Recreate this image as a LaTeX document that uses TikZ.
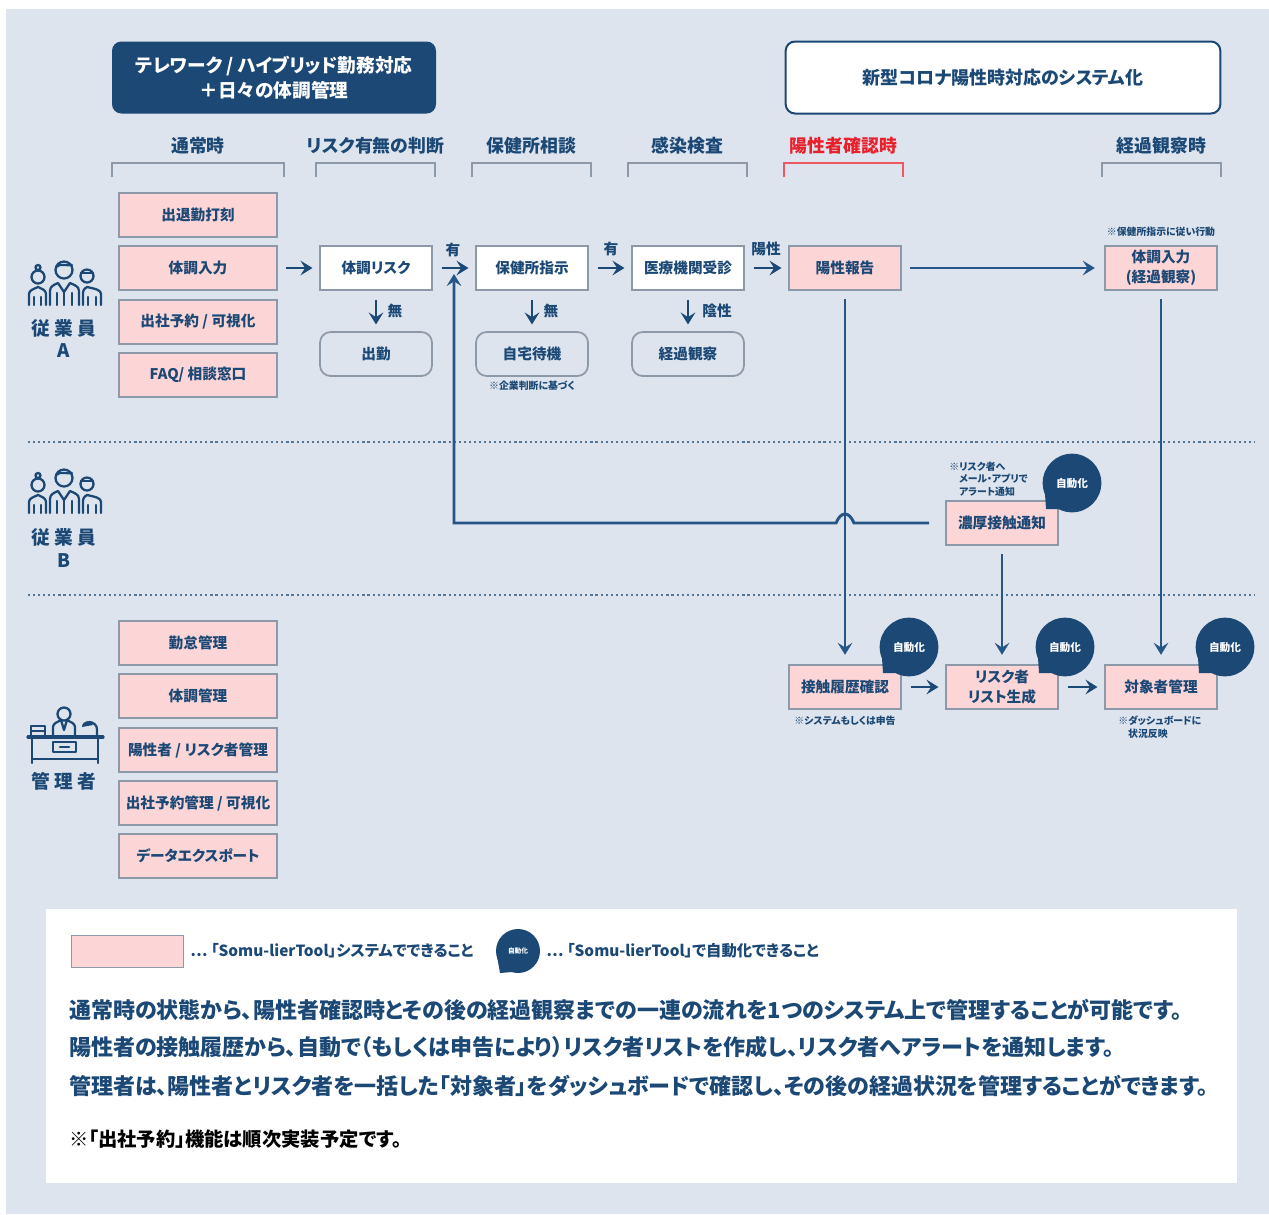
\documentclass[tikz,border=0pt]{standalone}
\usepackage{fontspec}
\setmainfont{Noto Sans CJK JP}[RawFeature={+palt}]
\usetikzlibrary{arrows.meta}

\definecolor{panelblue}{RGB}{221,228,237}
\definecolor{navy}{RGB}{27,72,117}
\definecolor{linenavy}{RGB}{38,86,134}
\definecolor{boxpink}{RGB}{252,214,214}
\definecolor{boxgrey}{RGB}{140,153,168}
\definecolor{alertred}{RGB}{232,32,44}

\tikzset{
  every node/.style={text=navy,inner sep=0pt,align=center,font=\fontsize{11}{15}\selectfont\bfseries},
  pinkbox/.style={draw=boxgrey,fill=boxpink,line width=1.3pt,minimum width=118pt,minimum height=33pt},
  flowbox/.style={draw=boxgrey,fill=boxpink,line width=1.3pt,minimum width=84pt,minimum height=33pt},
  whitebox/.style={flowbox,fill=white},
  endbox/.style={flowbox,fill=none,rounded corners=8pt},
  headbox/.style={minimum height=54pt,rounded corners=7pt,font=\fontsize{14}{19}\selectfont\bfseries},
  collabel/.style={font=\fontsize{13.4}{15}\selectfont\bfseries},
  sidelabel/.style={font=\fontsize{14}{17}\selectfont\bfseries},
  flowlabel/.style={font=\fontsize{11}{13}\selectfont\bfseries},
  notelabel/.style={font=\fontsize{7.4}{9.3}\selectfont\bfseries},
  autobubble/.style={circle,fill=navy,text=white,minimum size=44pt,font=\fontsize{8}{10}\selectfont\bfseries},
  foottext/.style={anchor=west,font=\fontsize{16.5}{18}\selectfont\bfseries},
  legendtext/.style={anchor=west,font=\fontsize{11.5}{14}\selectfont\bfseries},
  flowarrow/.style={draw=navy,line width=2pt,-{Stealth[length=9pt,width=11pt,inset=3.5pt]},shorten <=6.5pt,shorten >=5pt},
  longarrow/.style={draw=linenavy,line width=2.2pt,-{Stealth[length=9pt,width=11pt,inset=3.5pt]},shorten <=6pt,shorten >=7pt},
  bracketline/.style={line width=1.2pt},
  dotline/.style={draw=navy!75,line width=1.6pt,dash pattern=on 1.6pt off 2.2pt},
  iconline/.style={draw=navy,line width=1.7pt,line cap=round,line join=round}
}

\begin{document}
\begin{tikzpicture}[x=0.75pt,y=0.75pt,yscale=-1,xscale=1]
\useasboundingbox (0,0) rectangle (1269,1214);

%Panel
\fill[white] (0,0) rectangle (1269,1214);
\fill[panelblue] (6,9) rectangle (1269,1214);
\fill[white] (46,909) rectangle (1237,1183);

%Dotted Lines
\draw[dotline] (28,442) -- (1255,442);
\draw[dotline] (28,595) -- (1255,595);

%Header Boxes
\node (telework) at (274,77.5) [headbox,fill=navy,text=white,minimum width=243pt] {テレワーク / ハイブリッド勤務対応\\＋日々の体調管理};
\node (corona) at (1003,77.5) [headbox,draw=navy,line width=1.5pt,fill=white,minimum width=326pt,font=\fontsize{13.5}{19}\selectfont\bfseries] {\raisebox{-1.5pt}{新型コロナ陽性時対応のシステム化}};

%Column Labels and Brackets
\foreach \nm/\xa/\xb/\txt/\clr/\brk in {normal/112/284/通常時/navy/boxgrey,judge/316/435/リスク有無の判断/navy/boxgrey,consult/472/591/保健所相談/navy/boxgrey,test/628/747/感染検査/navy/boxgrey,positive/784/903/陽性者確認時/alertred/alertred!75,watch/1102/1221/経過観察時/navy/boxgrey}{
  \node (col\nm) at ({(\xa+\xb)/2},146) [collabel,text=\clr] {\txt};
  \draw[bracketline,draw=\brk] (\xa,177) |- (\xb,163) -- (\xb,177);
}

%Employee Function Boxes
\node (clock) at (198,215) [pinkbox] {出退勤打刻};
\node (health) at (198,268) [pinkbox] {体調入力};
\node (reserve) at (198,322) [pinkbox] {出社予約 / 可視化};
\node (faq) at (198,375) [pinkbox] {FAQ/ 相談窓口};

%Flow Boxes
\node (risk) at (376,268) [whitebox] {体調リスク};
\node (office) at (532,268) [whitebox] {保健所指示};
\node (clinic) at (688,268) [whitebox] {医療機関受診};
\node (report) at (845,268) [flowbox] {陽性報告};
\node (followup) at (1161,268) [flowbox] {体調入力\\(経過観察)};
\node (work) at (376,354) [endbox] {出勤};
\node (home) at (532,354) [endbox] {自宅待機};
\node (observe) at (688,354) [endbox] {経過観察};
\node (contact) at (1002,523) [flowbox] {濃厚接触通知};
\node (history) at (845,687) [flowbox] {接触履歴確認};
\node (risklist) at (1002,687) [flowbox] {リスク者\\リスト生成};
\node (target) at (1161,687) [flowbox] {対象者管理};

%Admin Function Boxes
\node (attend) at (198,643) [pinkbox] {勤怠管理};
\node (healthadm) at (198,696) [pinkbox] {体調管理};
\node (posadm) at (198,750) [pinkbox] {陽性者 / リスク者管理};
\node (resadm) at (198,803) [pinkbox] {出社予約管理 / 可視化};
\node (export) at (198,856) [pinkbox] {データエクスポート};

%Arrows
\draw[flowarrow] (health) -- (risk);
\draw[flowarrow] (risk) -- (office);
\draw[flowarrow] (office) -- (clinic);
\draw[flowarrow] (clinic) -- (report);
\draw[flowarrow] (risk) -- (work);
\draw[flowarrow] (office) -- (home);
\draw[flowarrow] (clinic) -- (observe);
\draw[flowarrow] (history) -- (risklist);
\draw[flowarrow] (risklist) -- (target);
\draw[longarrow] (report) -- (followup);
\draw[longarrow] (report) -- (history);
\draw[longarrow] (followup) -- (target);
\draw[longarrow] (contact) -- (risklist);

%Return Line with Jump
\coordinate (jumpright) at (854,523);
\coordinate (jumpleft) at (836,523);
\coordinate (turn) at (454,523);
\coordinate (riskin) at (454,274);
\draw[longarrow,shorten <=12pt,shorten >=0pt] (contact.west) -- (jumpright) .. controls (849,511) and (841,511) .. (jumpleft) -- (turn) -- (riskin);

%Arrow Labels
\node (yes1) at (453,250) [flowlabel] {有};
\node (yes2) at (611,249) [flowlabel] {有};
\node (pos) at (766,249) [flowlabel] {陽性};
\node (no1) at (395,311) [flowlabel] {無};
\node (no2) at (551,311) [flowlabel] {無};
\node (neg) at (717,311) [flowlabel] {陰性};

%Notes
\node (note1) at (1161,232) [notelabel] {※保健所指示に従い行動};
\node (note2) at (532,386) [notelabel] {※企業判断に基づく};
\node (note3) at (845,721) [notelabel] {※システムもしくは申告};
\node (note4) at (1118,727) [notelabel,anchor=west,align=left] {※ダッシュボードに\\\phantom{※}状況反映};
\node (note5) at (949,479) [notelabel,anchor=west,align=left] {※リスク者へ\\\phantom{※}メール・アプリで\\\phantom{※}アラート通知};

%Automation Bubbles
\node (auto1) at (1072,483) [autobubble] {自動化};
\node (auto2) at (909,647) [autobubble] {自動化};
\node (auto3) at (1065,647) [autobubble] {自動化};
\node (auto4) at (1225,647) [autobubble] {自動化};
\foreach \n in {auto1,auto2,auto3,auto4}{
  \fill[navy] ([shift={(-27,11)}]\n.center) -- ([shift={(-26,26)}]\n.center) -- ([shift={(-11,26)}]\n.center) -- cycle;
}

%People Icons
\foreach \dy in {0,208}{
  \begin{scope}[shift={(0,\dy)}]
    \draw[iconline] (64,270) circle [radius=8.5];
    \draw[iconline] (56,267) .. controls (60,263) and (67,266) .. (72,265);
    \draw[iconline] (50,305) -- (50,291) .. controls (50,286) and (54,285) .. (58,283) -- (64,292) -- (70,283) .. controls (74,285) and (79,286) .. (79,291) -- (79,305);
    \draw[iconline] (57,293) -- (57,305) (64,292) -- (64,305) (72,293) -- (72,305);
    \draw[iconline] (38,277) circle [radius=6.5];
    \draw[iconline] (38,267.5) circle [radius=2.5];
    \draw[iconline] (29,305) -- (29,294) .. controls (29,290) and (34,289) .. (38,287) .. controls (42,289) and (46,290) .. (46,294) -- (46,305);
    \draw[iconline] (34,297) -- (34,305) (41,297) -- (41,305);
    \draw[iconline] (87,276) circle [radius=6.5];
    \draw[iconline] (81,273) -- (93,273);
    \draw[iconline] (101,305) -- (101,294) .. controls (101,290) and (96,289) .. (87,287) .. controls (84,289) and (83,290) .. (83,294) -- (83,305);
    \draw[iconline] (96,297) -- (96,305) (88,297) -- (88,305);
  \end{scope}
}

%Desk Icon
\draw[iconline,line width=2.4pt] (28,737) -- (103,737);
\draw[iconline] (32,737) -- (32,763) (98,737) -- (98,763);
\draw[iconline] (32,759) -- (98,759);
\draw[iconline] (53,742) rectangle (76,752);
\draw[iconline] (60,747) -- (69,747);
\draw[iconline] (64,714) circle [radius=6.5];
\draw[iconline] (53,736) -- (53,727) .. controls (53,723) and (58,722) .. (61,720) -- (64,730) -- (67,720) .. controls (70,722) and (75,723) .. (75,727) -- (75,736);
\draw[iconline] (31,726) rectangle (45,736);
\draw[iconline] (31,731) -- (45,731);
\draw[iconline] (97,735) -- (97,729) .. controls (97,725) and (93,722) .. (89,722);
\fill[navy] (82,727) .. controls (82,720) and (92,719) .. (93,725) -- cycle;

%Side Labels
\node (staffa) at (64,328) [sidelabel] {従 業 員};
\node (namea) at (64,351) [sidelabel] {A};
\node (staffb) at (64,537) [sidelabel] {従 業 員};
\node (nameb) at (64,561) [sidelabel] {B};
\node (admin) at (64,781) [sidelabel] {管 理 者};

%Legend
\node (legendbox) at (127.5,951.5) [draw=boxgrey,fill=boxpink,line width=1.3pt,minimum width=84pt,minimum height=24pt] {};
\node (legendsys) at (190,951) [legendtext] {⋯ 「Somu-lierTool」システムでできること};
\node (legendauto) at (518,951) [autobubble,minimum size=33pt,font=\fontsize{5}{6}\selectfont\bfseries] {自動化};
\fill[navy] ([shift={(-21,5)}]legendauto.center) -- ([shift={(-18,22)}]legendauto.center) -- ([shift={(-6,21)}]legendauto.center) -- cycle;
\node (legendtool) at (546,951) [legendtext] {⋯ 「Somu-lierTool」で自動化できること};

%Footer Text
\node (line1) at (69,1010) [foottext] {通常時の状態から、陽性者確認時とその後の経過観察までの一連の流れを1つのシステム上で管理することが可能です。};
\node (line2) at (69,1047) [foottext] {陽性者の接触履歴から、自動で（もしくは申告により）リスク者リストを作成し、リスク者へアラートを通知します。};
\node (line3) at (69,1086) [foottext] {管理者は、陽性者とリスク者を一括した「対象者」をダッシュボードで確認し、その後の経過状況を管理することができます。};
\node (line4) at (69,1139) [foottext,text=black,font=\fontsize{14.5}{15}\selectfont\bfseries] {※「出社予約」機能は順次実装予定です。};

\end{tikzpicture}
\end{document}
